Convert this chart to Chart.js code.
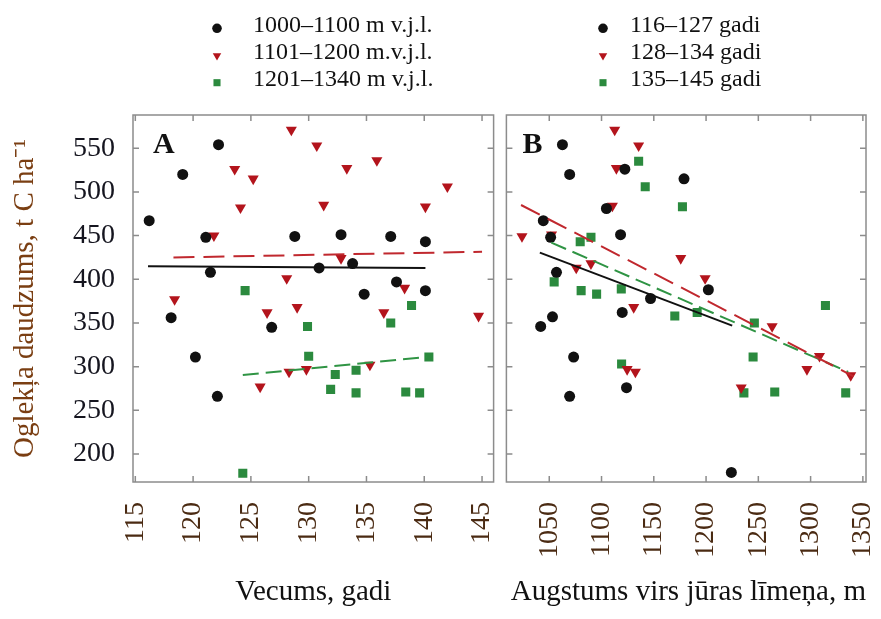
<!DOCTYPE html>
<html>
<head>
<meta charset="utf-8">
<script src="https://cdn.jsdelivr.net/npm/chart.js@4.4.1/dist/chart.umd.min.js"></script>
<style>
  html, body { margin: 0; padding: 0; background: #fff; }
  #wrap { position: relative; width: 881px; height: 619px; overflow: hidden; }
  canvas { position: absolute; top: 0; }
  #chartA { left: 0; width: 500px; height: 619px; }
  #chartB { left: 500px; width: 381px; height: 619px; }
</style>
</head>
<body>
<div id="wrap">
  <canvas id="chartA" width="500" height="619"></canvas>
  <canvas id="chartB" width="381" height="619"></canvas>
</div>
<script>
// Ticks
const yTicks = [200, 250, 300, 350, 400, 450, 500, 550];
const ageTicks = [115, 120, 125, 130, 135, 140, 145];
const altTicks = [1050, 1100, 1150, 1200, 1250, 1300, 1350];

// Legend labels
const altLabels = ['1000–1100 m v.j.l.', '1101–1200 m.v.j.l.', '1201–1340 m v.j.l.'];
const ageLabels = ['116–127 gadi', '128–134 gadi', '135–145 gadi'];

// Panel A: vecums (x) pret oglekli (y), grupas pēc augstuma
const aBlackX = [116.2, 119.1, 122.2, 121.1, 121.5, 118.1, 120.2, 122.1, 126.8, 128.8, 130.9, 132.8, 133.8, 134.8, 137.1, 137.6, 140.1, 140.1];
const aBlackY = [467, 520, 554, 448, 408, 356, 311, 266, 345, 449, 413, 451, 418, 383, 449, 397, 443, 387];
const aRedX = [128.5, 130.7, 123.6, 125.2, 133.3, 135.9, 142.0, 124.1, 131.3, 140.1, 121.8, 132.8, 118.4, 128.1, 126.4, 129.0, 138.3, 136.5, 144.7, 125.8, 128.3, 129.8, 135.3];
const aRedY = [571, 553, 526, 515, 527, 536, 506, 482, 485, 483, 450, 424, 377, 401, 362, 368, 390, 362, 358, 277, 294, 297, 302];
const aGreenX = [124.5, 129.9, 130.0, 134.1, 132.3, 131.9, 134.1, 137.1, 138.9, 138.4, 139.6, 140.4, 124.3];
const aGreenY = [387, 346, 312, 296, 291, 274, 270, 350, 370, 271, 270, 311, 178];

// Panel B: augstums (x) pret oglekli (y), grupas pēc vecuma
const bBlackX = [1062.6, 1069.5, 1122.3, 1178.9, 1104.7, 1044.3, 1051.3, 1118.2, 1056.9, 1053.1, 1041.8, 1119.8, 1146.9, 1202.2, 1073.3, 1069.5, 1123.9, 1224.2];
const bBlackY = [554, 520, 526, 515, 481, 467, 448, 451, 408, 357, 346, 362, 378, 388, 311, 266, 276, 179];
const bRedX = [1112.6, 1135.5, 1114.2, 1110.4, 1023.9, 1052.2, 1089.9, 1075.8, 1175.8, 1199.1, 1130.8, 1124.5, 1132.4, 1233.6, 1263.2, 1308.5, 1296.5, 1338.4];
const bRedY = [571, 553, 527, 484, 449, 451, 418, 413, 424, 401, 368, 297, 294, 276, 346, 312, 297, 290];
const bGreenX = [1135.5, 1141.8, 1177.4, 1089.9, 1079.6, 1054.7, 1080.5, 1095.3, 1118.9, 1170.1, 1191.5, 1246.2, 1314.2, 1245.0, 1119.2, 1236.2, 1265.7, 1333.6];
const bGreenY = [535, 506, 483, 448, 443, 397, 387, 383, 389, 358, 362, 350, 370, 311, 303, 270, 271, 270];

// Regresijas līnijas (galapunkti)
const aFitBlackX = [116.1, 140.1], aFitBlackY = [415, 413];
const aFitRedX = [118.3, 145.0],   aFitRedY = [425, 431.5];
const aFitGreenX = [124.3, 140.2], aFitGreenY = [290.5, 311];
const bFitBlackX = [1041, 1225],   bFitBlackY = [430.5, 347];
const bFitRedX = [1023, 1341],     bFitRedY = [485, 289];
const bFitGreenX = [1052, 1336],   bFitGreenY = [442, 294];

const SERIF = "'Liberation Serif', 'Times New Roman', serif";
const COLORS = ['#111111', '#b3141c', '#2b8a3e'];
const LINE_COLORS = ['#111111', '#c0282e', '#2f9444'];
const STYLES = [
  { pointStyle: 'circle', radius: 5.5, rot: 0, legendR: 4.8 },
  { pointStyle: 'triangle', radius: 6.4, rot: 180, legendR: 4.9 },
  { pointStyle: 'rect', radius: 6.4, rot: 0, legendR: 5.0 }
];
const DASHES = [[], [21, 9], [16, 7]];

const pts = (xs, ys) => xs.map((x, i) => ({ x, y: ys[i] }));

function scatterSet(label, xs, ys, i) {
  const s = STYLES[i];
  return {
    label, data: pts(xs, ys),
    pointStyle: s.pointStyle, pointRadius: s.radius, pointRotation: s.rot,
    backgroundColor: COLORS[i], borderColor: COLORS[i], borderWidth: 0,
    showLine: false, order: 1, styleIdx: i
  };
}

function fitSet(xs, ys, i) {
  return {
    label: '', data: pts(xs, ys), showLine: true, pointRadius: 0,
    borderColor: LINE_COLORS[i], borderWidth: 2, borderDash: DASHES[i],
    fill: false, order: 0, isFit: true
  };
}

// rāmis ar iekšējām iedaļām visās četrās malās
const framePlugin = {
  id: 'frame',
  afterDatasetsDraw(chart) {
    const { ctx, chartArea: a, scales: { x, y } } = chart;
    ctx.save();
    ctx.strokeStyle = '#8c8c8c';
    ctx.lineWidth = 1.5;
    ctx.strokeRect(a.left, a.top, a.right - a.left, a.bottom - a.top);
    ctx.beginPath();
    x.ticks.forEach(t => {
      const p = x.getPixelForValue(t.value);
      ctx.moveTo(p, a.bottom); ctx.lineTo(p, a.bottom - 6);
      ctx.moveTo(p, a.top); ctx.lineTo(p, a.top + 6);
    });
    y.ticks.forEach(t => {
      const p = y.getPixelForValue(t.value);
      ctx.moveTo(a.left, p); ctx.lineTo(a.left + 6, p);
      ctx.moveTo(a.right, p); ctx.lineTo(a.right - 6, p);
    });
    ctx.stroke();
    ctx.restore();
  }
};

// leģenda virs paneļa
const legendPlugin = {
  id: 'panelLegend',
  afterDraw(chart, args, opts) {
    const ctx = chart.ctx;
    ctx.save();
    ctx.font = '24px ' + SERIF;
    ctx.textBaseline = 'alphabetic';
    ctx.textAlign = 'left';
    chart.data.datasets.filter(d => !d.isFit).forEach((d, i) => {
      const s = STYLES[d.styleIdx];
      const yRow = opts.rows[i];
      ctx.fillStyle = COLORS[d.styleIdx];
      ctx.strokeStyle = COLORS[d.styleIdx];
      Chart.helpers.drawPoint(ctx, { pointStyle: s.pointStyle, radius: s.legendR, rotation: s.rot, borderWidth: 0 }, opts.markerX, yRow);
      ctx.fillStyle = '#111111';
      ctx.fillText(d.label, opts.textX, yRow + 3.5);
    });
    ctx.restore();
  }
};

const letterPlugin = {
  id: 'panelLetter',
  afterDraw(chart, args, opts) {
    const { ctx, chartArea: a } = chart;
    ctx.save();
    ctx.font = 'bold 30px ' + SERIF;
    ctx.fillStyle = '#111111';
    ctx.textBaseline = 'alphabetic';
    ctx.fillText(opts.text, a.left + opts.dx, a.top + 38);
    ctx.restore();
  }
};

function makeOptions(cfg) {
  return {
    responsive: false,
    animation: false,
    layout: { padding: cfg.padding },
    plugins: {
      legend: { display: false },
      tooltip: { enabled: false },
      panelLegend: cfg.legend,
      panelLetter: cfg.letter
    },
    scales: {
      x: {
        type: 'linear', min: cfg.xMin, max: cfg.xMax,
        afterBuildTicks: s => { s.ticks = cfg.xTicks.map(v => ({ value: v })); },
        afterFit: s => { s.height = 137; s.paddingLeft = 0; s.paddingRight = 0; },
        grid: { display: false, drawTicks: false },
        border: { display: false },
        ticks: {
          autoSkip: false, minRotation: 90, maxRotation: 90, padding: 20,
          color: '#4a2a12', font: { family: SERIF, size: 28 },
          callback: v => String(v)
        },
        title: {
          display: true, text: cfg.xTitle, align: cfg.xTitleAlign,
          color: '#111111', font: { family: SERIF, size: 29 },
          padding: { top: 0, bottom: 9 }
        }
      },
      y: {
        type: 'linear', min: 168, max: 588, display: cfg.showY,
        afterBuildTicks: s => { s.ticks = yTicks.map(v => ({ value: v })); },
        afterFit: s => { if (cfg.showY) s.width = 133; s.paddingTop = 0; s.paddingBottom = 0; },
        grid: { display: false, drawTicks: false },
        border: { display: false },
        ticks: {
          padding: 18, color: '#15151f', font: { family: SERIF, size: 28 },
          callback: v => String(v)
        },
        title: {
          display: true, text: 'Oglekļa daudzums, t C ha⁻¹',
          color: '#7a3e12', font: { family: SERIF, size: 29 },
          padding: { top: 8, bottom: 0 }
        }
      }
    }
  };
}

new Chart(document.getElementById('chartA'), {
  type: 'scatter',
  data: {
    datasets: [
      scatterSet(altLabels[0], aBlackX, aBlackY, 0),
      scatterSet(altLabels[1], aRedX, aRedY, 1),
      scatterSet(altLabels[2], aGreenX, aGreenY, 2),
      fitSet(aFitBlackX, aFitBlackY, 0),
      fitSet(aFitRedX, aFitRedY, 1),
      fitSet(aFitGreenX, aFitGreenY, 2)
    ]
  },
  options: makeOptions({
    padding: { top: 115, right: 2, bottom: 0, left: 0 },
    xMin: 114.8, xMax: 146, xTicks: ageTicks,
    xTitle: 'Vecums, gadi', xTitleAlign: 'center', showY: true,
    legend: { markerX: 217, textX: 253, rows: [28.3, 55.7, 82.7] },
    letter: { text: 'A', dx: 20 }
  }),
  plugins: [framePlugin, legendPlugin, letterPlugin]
});

new Chart(document.getElementById('chartB'), {
  type: 'scatter',
  data: {
    datasets: [
      scatterSet(ageLabels[0], bBlackX, bBlackY, 0),
      scatterSet(ageLabels[1], bRedX, bRedY, 1),
      scatterSet(ageLabels[2], bGreenX, bGreenY, 2),
      fitSet(bFitBlackX, bFitBlackY, 0),
      fitSet(bFitRedX, bFitRedY, 1),
      fitSet(bFitGreenX, bFitGreenY, 2)
    ]
  },
  options: makeOptions({
    padding: { top: 115, right: 15, bottom: 0, left: 1 },
    xMin: 1009, xMax: 1353, xTicks: altTicks,
    xTitle: 'Augstums virs jūras līmeņa, m', xTitleAlign: 'end', showY: false,
    legend: { markerX: 103, textX: 130, rows: [28.3, 55.7, 82.7] },
    letter: { text: 'B', dx: 16 }
  }),
  plugins: [framePlugin, legendPlugin, letterPlugin]
});
</script>
</body>
</html>
